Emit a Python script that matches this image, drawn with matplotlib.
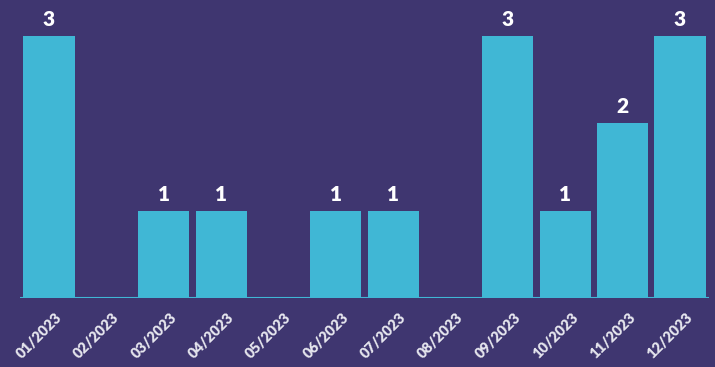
import matplotlib.pyplot as plt
import matplotlib.transforms as mtransforms
import numpy as np

plt.rcParams['font.family'] = ['Lato', 'DejaVu Sans']

BG = '#3f3670'
BAR = '#40b7d5'

months = ['01/2023', '02/2023', '03/2023', '04/2023', '05/2023', '06/2023',
          '07/2023', '08/2023', '09/2023', '10/2023', '11/2023', '12/2023']
counts = [3, 0, 1, 1, 0, 1, 1, 0, 3, 1, 2, 3]

fig = plt.figure(figsize=(7.15, 3.67), dpi=100, facecolor=BG)
ax = fig.add_axes([20.3 / 715, 69 / 367, 688.4 / 715, 262 / 367])
ax.set_facecolor(BG)

x = np.arange(len(months))
bars = ax.bar(x, counts, width=0.89, color=BAR, zorder=3)
ax.axhline(0, color=BAR, linewidth=1.5, zorder=4)

for bar, v in zip(bars, counts):
    if v > 0:
        ax.annotate(str(v), (bar.get_x() + bar.get_width() / 2, v),
                    xytext=(0, 5), textcoords='offset points',
                    ha='center', va='bottom', color='white',
                    fontsize=15, fontweight='heavy', annotation_clip=False)

ax.set_xlim(-0.5, len(months) - 0.5)
ax.set_ylim(0, 3)
ax.set_xticks(x)
ax.set_xticklabels(months, rotation=45, ha='right', rotation_mode='anchor',
                   color='#e6e6ee', fontsize=10.5, fontweight='heavy')
ax.tick_params(axis='x', length=0, pad=9)
# nudge the rotated month labels a little to the right
shift = mtransforms.ScaledTranslation(6 / 100, 0, fig.dpi_scale_trans)
for lbl in ax.get_xticklabels():
    lbl.set_transform(lbl.get_transform() + shift)
ax.set_yticks([])
for s in ax.spines.values():
    s.set_visible(False)

fig.savefig('out.png', facecolor=BG)
